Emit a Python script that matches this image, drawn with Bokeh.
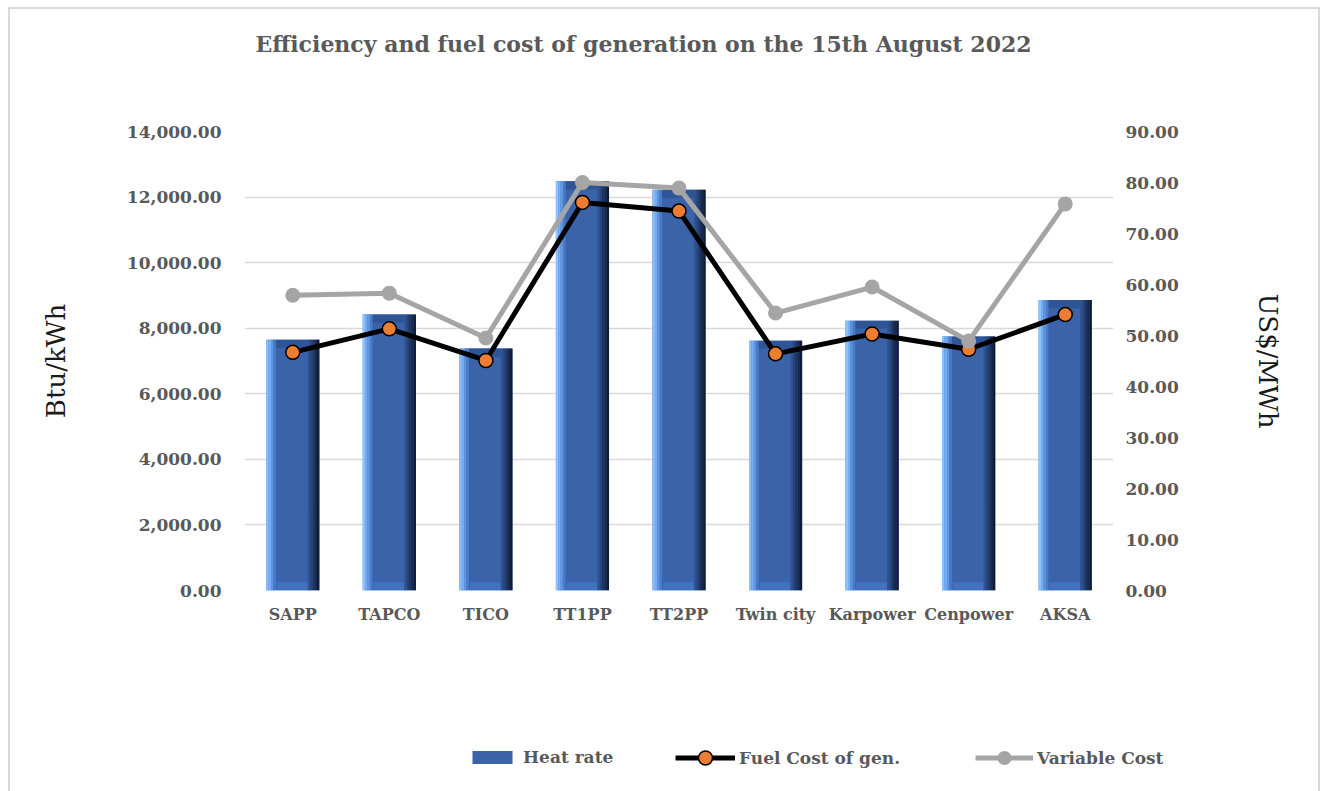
from bokeh.plotting import figure
from bokeh.layouts import column
from bokeh.models import (ColumnDataSource, FactorRange, Range1d, LinearAxis, Label,
                          NumeralTickFormatter, SingleIntervalTicker, Legend, LegendItem)
from bokeh.transform import dodge
from bokeh.embed import file_html
from bokeh.resources import INLINE

# ---- data ----
plants = ["SAPP", "TAPCO", "TICO", "TT1PP", "TT2PP", "Twin city", "Karpower", "Cenpower", "AKSA"]
heat_rate = [7650, 8420, 7380, 12480, 12220, 7620, 8230, 7750, 8860]
fuel_cost = [46.7, 51.3, 45.1, 76.1, 74.4, 46.4, 50.3, 47.3, 54.1]
variable_cost = [57.9, 58.3, 49.5, 80.0, 78.9, 54.4, 59.5, 48.9, 75.8]
title_text = "Efficiency and fuel cost of generation on the 15th August 2022"

BEVEL = 250  # data units of the bevelled cap
src = ColumnDataSource(dict(
    cat=plants, heat=heat_rate, fuel=fuel_cost, var=variable_cost,
    cap_bottom=[h - BEVEL for h in heat_rate],
    base_top=[BEVEL for _ in heat_rate],
))

FONT = "DejaVu Serif"
GREY_TXT = "#595959"
BAR_C = "#3A63A9"
ORANGE = "#ED7D31"
GREY_L = "#A5A5A5"
FW = 1308          # width of each figure (inside the light grey border)
X0 = 10            # page x of the figures' left edge

# ---- title strip ----
tf = figure(width=FW, height=61, x_range=Range1d(0, 1), y_range=Range1d(0, 1),
            x_axis_type=None, y_axis_type=None, output_backend="svg", toolbar_location=None,
            min_border=0)
tf.frame_align = False
tf.outline_line_color = None
tf.grid.grid_line_color = None
tf.add_layout(Label(x=643 - X0, y=27, x_units="screen", y_units="screen", text=title_text,
                    text_font=FONT, text_font_size="22px", text_font_style="bold",
                    text_color=GREY_TXT, text_align="center", text_baseline="middle"))

# ---- main chart ----
p = figure(width=FW, height=570, x_range=FactorRange(*plants), y_range=Range1d(0, 14000),
           output_backend="svg", toolbar_location=None,
           min_border_left=244 - X0, min_border_right=X0 + FW - 1113,
           min_border_top=131 - 70, min_border_bottom=50)
p.frame_align = False
p.outline_line_color = None
p.background_fill_color = "white"
p.border_fill_color = "white"
p.extra_y_ranges = {"cost": Range1d(0, 90)}

W = 0.55
p.vbar(x="cat", top="heat", width=W, source=src, fill_color=BAR_C, line_color=None)
p.vbar(x="cat", bottom=0, top="base_top", width=0.33, source=src, fill_color="#4271BE", line_color=None)
p.vbar(x=dodge("cat", -0.01, range=p.x_range), bottom="cap_bottom", top="heat", width=0.33,
       source=src, fill_color="#2F5596", line_color=None)
left_cols = ["#8AC3FF", "#74AEF4", "#5E94E0", "#4A7BC8"]
for i, c in enumerate(left_cols):
    off = -W / 2 + 0.0125 + 0.025 * i
    p.vbar(x=dodge("cat", off, range=p.x_range), top="heat", width=0.026, source=src,
           fill_color=c, line_color=None)
right_cols = ["#30538F", "#27457B", "#1E3664", "#17294C", "#101C35"]
for i, c in enumerate(right_cols):
    off = W / 2 - 0.12 + 0.012 + 0.024 * i
    p.vbar(x=dodge("cat", off, range=p.x_range), top="heat", width=0.025, source=src,
           fill_color=c, line_color=None)

p.line(x="cat", y="fuel", source=src, y_range_name="cost", line_color="black", line_width=5)
p.scatter(x="cat", y="fuel", source=src, y_range_name="cost", size=14,
          fill_color=ORANGE, line_color="black", line_width=1.5)
p.line(x="cat", y="var", source=src, y_range_name="cost", line_color=GREY_L, line_width=5)
p.scatter(x="cat", y="var", source=src, y_range_name="cost", size=15,
          fill_color=GREY_L, line_color=None)

def style_labels(ax, size="17px"):
    ax.axis_line_color = None
    ax.major_tick_line_color = None
    ax.minor_tick_line_color = None
    ax.major_label_text_font = FONT
    ax.major_label_text_font_size = size
    ax.major_label_text_font_style = "bold"
    ax.major_label_text_color = GREY_TXT

yl = p.yaxis[0]
yl.ticker = SingleIntervalTicker(interval=2000)
yl.formatter = NumeralTickFormatter(format="0,0.00")
yl.axis_label = "Btu/kWh"
yl.axis_label_text_font = FONT
yl.axis_label_text_font_size = "26px"
yl.axis_label_text_font_style = "normal"
yl.axis_label_text_color = "#1a1a1a"
yl.axis_label_standoff = 53
style_labels(yl)
yl.major_label_standoff = 17

yr = LinearAxis(y_range_name="cost", ticker=SingleIntervalTicker(interval=10),
                formatter=NumeralTickFormatter(format="0.00"))
yr.axis_label = "US$/MWh"
yr.axis_label_text_font = FONT
yr.axis_label_text_font_size = "26px"
yr.axis_label_text_font_style = "normal"
yr.axis_label_text_color = "#1a1a1a"
yr.axis_label_standoff = 71
style_labels(yr)
yr.major_label_standoff = 6
p.add_layout(yr, "right")

xa = p.xaxis[0]
style_labels(xa, "16px")
xa.major_label_standoff = 8

p.xgrid.grid_line_color = None
p.ygrid.grid_line_color = "#D9D9D9"
p.ygrid.grid_line_width = 1.5

# ---- legend strip (legend proxies lie far outside its visible range) ----
lg = figure(width=FW, height=151, x_range=FactorRange(*plants), y_range=Range1d(1e6, 1e6 + 1),
            x_axis_type=None, y_axis_type=None, output_backend="svg", toolbar_location=None,
            min_border=0)
lg.frame_align = False
lg.outline_line_color = None
lg.grid.grid_line_color = None
lg.border_fill_color = "white"
r_bar = lg.vbar(x="cat", top="heat", width=W, source=src, fill_color=BAR_C, line_color=None)
r_fl = lg.line(x="cat", y="fuel", source=src, line_color="black", line_width=5)
r_fm = lg.scatter(x="cat", y="fuel", source=src, size=14, fill_color=ORANGE,
                  line_color="black", line_width=1.5)
r_vl = lg.line(x="cat", y="var", source=src, line_color=GREY_L, line_width=5)
r_vm = lg.scatter(x="cat", y="var", source=src, size=15, fill_color=GREY_L, line_color=None)

def make_legend(items, loc, gw, gh, standoff):
    leg = Legend(items=items, location=loc, orientation="horizontal")
    leg.label_text_font = FONT
    leg.label_text_font_size = "17px"
    leg.label_text_font_style = "bold"
    leg.label_text_color = GREY_TXT
    leg.glyph_width = gw
    leg.glyph_height = gh
    leg.label_standoff = standoff
    leg.padding = 0
    leg.margin = 0
    leg.border_line_color = None
    leg.background_fill_alpha = 0
    lg.add_layout(leg, "center")

make_legend([LegendItem(label="Heat rate", renderers=[r_bar])], (467 - X0, 24), 50, 16, 6)
make_legend([LegendItem(label="Fuel Cost of gen.", renderers=[r_fl, r_fm])], (675 - X0, 16), 60, 35, 4)
make_legend([LegendItem(label="Variable Cost", renderers=[r_vl, r_vm])], (975 - X0, 16), 58, 35, 4)

layout = column(tf, p, lg, spacing=0, margin=(7, 0, 0, 8),
                styles={"border-left": "2px solid #d9d9d9", "border-top": "2px solid #d9d9d9",
                        "border-right": "2px solid #d9d9d9"})

open("out.html", "w").write(file_html(layout, INLINE))
